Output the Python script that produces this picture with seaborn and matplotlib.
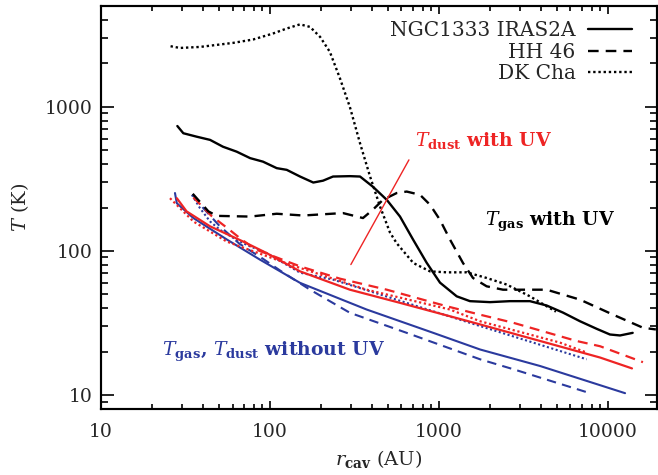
import matplotlib
matplotlib.use("Agg")
import matplotlib.pyplot as plt
from matplotlib.ticker import LogLocator, NullFormatter, FuncFormatter
import seaborn as sns
import pandas as pd

# --- gas temperature with UV (black) -------------------------------------
ngc_gas_r = [28.3, 30.7, 36.8, 44.2, 52.7, 63.5, 76.3, 90.9, 109.6, 125.6, 150.6,
             180.4, 206, 236, 297, 341, 406, 491, 588, 702, 845, 1014, 1273, 1525,
             2003, 2630, 3452, 4335, 5420, 6830, 8570, 10270, 11780, 14000]
ngc_gas_T = [735, 655, 620, 589, 528, 488, 440, 416, 375, 365, 328,
             298, 307, 328, 330, 328, 279, 226, 173, 120, 82.8, 60.2, 48.4, 44.8,
             44.1, 44.8, 44.8, 41.8, 37.3, 32.5, 28.8, 26.3, 25.9, 27.0]

hh46_gas_r = [34.9, 43.2, 48.4, 76.3, 109.6, 157, 270, 297, 355, 406, 466, 562,
              644, 772, 885, 1014, 1161, 1387, 1589, 1914, 2392, 3013, 4335,
              6830, 10720, 16100, 19200]
hh46_gas_T = [249, 188, 175, 173, 181, 176, 183, 178, 169, 193, 226, 252,
              258, 245, 209, 164, 120, 82.4, 64.9, 56.8, 53.8, 53.8, 53.8,
              45.9, 36.1, 29.3, 28.5]

dkcha_gas_r = [25.8, 29.3, 38.5, 60.4, 79.3, 104, 125.6, 150.6, 172.6, 198, 226,
               259, 297, 341, 391, 448, 513, 562, 705, 885, 1111, 1459, 1914,
               2516, 3452, 4335, 4920]
dkcha_gas_T = [2630, 2558, 2600, 2773, 2926, 3220, 3490, 3730, 3580, 3050, 2405,
               1582, 995, 558, 328, 203, 134, 113, 82.4, 72.1, 71.0, 71.0, 64.9,
               58.4, 48.4, 41.3, 37.9]

# --- dust temperature with UV (red) --------------------------------------
ngc_dust_uv_r = [28.1, 32.1, 44.2, 69.5, 95.5, 150.6, 297, 588, 1161, 1750, 8980, 13870]
ngc_dust_uv_T = [232, 188, 148, 116, 96.6, 72.1, 53.8, 43.6, 35.2, 30.9, 18.2, 15.3]

hh46_dust_uv_r = [35.2, 45.0, 56.1, 66.4, 81.5, 150.6, 259, 491, 1111, 1750, 2755,
                  6530, 8980, 16100]
hh46_dust_uv_T = [235, 175, 143.6, 122.5, 102.8, 78.1, 64.2, 53.8, 41.3, 36.1, 31.7,
                  23.7, 21.8, 16.9]

dkcha_dust_uv_r = [25.6, 35.2, 55.5, 131, 150.6, 373, 1161, 1750, 5200, 7400]
dkcha_dust_uv_T = [232, 160, 116, 80.4, 76.2, 53.8, 39.2, 32.5, 23.1, 19.8]

# --- gas and dust temperature without UV (blue) --------------------------
ngc_noUV_r = [27.4, 28.1, 35.2, 55.5, 87.3, 150.6, 373, 925, 1750, 3963, 12620]
ngc_noUV_T = [252, 214, 169, 120, 86.9, 60.0, 39.2, 27.0, 20.7, 15.9, 10.3]

hh46_noUV_r = [35.0, 40.0, 50.0, 66.0, 91.0, 119, 172.6, 297, 644, 1750, 2755, 7620]
hh46_noUV_T = [245, 200, 150, 112, 88, 71, 53.8, 37.2, 27.0, 17.7, 15.1, 10.4]

dkcha_noUV_r = [34.5, 38.5, 44.2, 50.6, 60.7, 72.8, 95.5, 150.6, 236, 1750, 7480]
dkcha_noUV_T = [245, 198, 160, 140, 123, 110, 96.6, 70.6, 63.2, 30.1, 17.7]

sources = ["NGC1333 IRAS2A", "HH 46", "DK Cha"]

R_LIM = (10, 19500)
T_LIM = (8, 5000)

RED = "#EE2424"
BLUE = "#2B3A9E"
SOLID = "-"
DASHED = (0, (4.5, 3.0))
DOTTED = (0, (1.0, 1.2))

sns.set_style("ticks")
plt.rcParams["font.family"] = ["DejaVu Serif"]
plt.rcParams["mathtext.fontset"] = "dejavuserif"

RECT = [101 / 658, 66 / 475, 556 / 658, 403 / 475]
fig = plt.figure(figsize=(6.58, 4.75), dpi=100)
ax = fig.add_axes(RECT)

curves = [
    (ngc_noUV_r, ngc_noUV_T, BLUE, SOLID, 1.5),
    (hh46_noUV_r, hh46_noUV_T, BLUE, DASHED, 1.5),
    (dkcha_noUV_r, dkcha_noUV_T, BLUE, DOTTED, 1.5),
    (ngc_dust_uv_r, ngc_dust_uv_T, RED, SOLID, 1.6),
    (hh46_dust_uv_r, hh46_dust_uv_T, RED, DASHED, 1.6),
    (dkcha_dust_uv_r, dkcha_dust_uv_T, RED, DOTTED, 1.6),
]
for r, T, col, ls, lw in curves:
    df = pd.DataFrame({"r": r, "T": T})
    sns.lineplot(data=df, x="r", y="T", ax=ax, color=col, linestyle=ls, lw=lw,
                 sort=False, estimator=None, legend=False)

gas_curves = [
    (ngc_gas_r, ngc_gas_T, SOLID),
    (hh46_gas_r, hh46_gas_T, DASHED),
    (dkcha_gas_r, dkcha_gas_T, DOTTED),
]
handles = []
for (r, T, ls), name in zip(gas_curves, sources):
    df = pd.DataFrame({"r": r, "T": T})
    sns.lineplot(data=df, x="r", y="T", ax=ax, color="black", linestyle=ls, lw=1.7,
                 sort=False, estimator=None, legend=False)
    handles.append(ax.lines[-1])

plain = FuncFormatter(lambda v, pos: f"{v:g}")


def log_axes(a):
    a.set_xscale("log")
    a.set_yscale("log")
    a.set_xlim(*R_LIM)
    a.set_ylim(*T_LIM)
    for axis in (a.xaxis, a.yaxis):
        axis.set_major_locator(LogLocator(base=10, numticks=10))
        axis.set_major_formatter(plain)
        axis.set_minor_locator(LogLocator(base=10, subs=range(2, 10), numticks=20))
        axis.set_minor_formatter(NullFormatter())


log_axes(ax)
ax.tick_params(axis="both", which="both", length=0)
ax.tick_params(axis="y", which="major", labelsize=13.5, pad=6)
ax.tick_params(axis="x", which="major", labelsize=13.5, pad=10)
for s in ax.spines.values():
    s.set_visible(True)
    s.set_linewidth(1.5)

ax.set_xlabel(r"$r_{\mathbf{cav}}$ (AU)", fontsize=14, labelpad=5)
ax.set_ylabel(r"$T$ (K)", fontsize=14, labelpad=10)

ax.legend(handles, sources, loc="upper right", bbox_to_anchor=(0.955, 0.962),
          frameon=False, markerfirst=False, fontsize=14.5, handlelength=2.2,
          handletextpad=0.6, labelspacing=0.12, borderpad=0, borderaxespad=0)

ax.text(721, 579, r"$T_{\mathbf{dust}}$ with UV", color=RED, fontsize=13.5,
        fontweight="bold", ha="left", va="center")
ax.annotate("", xy=(301, 80.4), xytext=(664, 428),
            arrowprops=dict(arrowstyle="-", color=RED, lw=1.0, shrinkA=0, shrinkB=0))
ax.text(1871, 159, r"$T_{\mathbf{gas}}$ with UV", color="black", fontsize=13.5,
        fontweight="bold", ha="left", va="center")
ax.text(23, 20.0, r"$T_{\mathbf{gas}}$, $T_{\mathbf{dust}}$ without UV", color=BLUE,
        fontsize=13.5, fontweight="bold", ha="left", va="center")

# transparent frame on top carrying the inward ticks on all four sides
frame = fig.add_axes(RECT)
frame.patch.set_visible(False)
log_axes(frame)
for s in frame.spines.values():
    s.set_visible(True)
    s.set_linewidth(1.5)
    s.set_color("black")
frame.tick_params(axis="both", which="both", direction="in", top=True, right=True,
                  bottom=True, left=True, color="black", width=1.2,
                  labelbottom=False, labelleft=False, labeltop=False, labelright=False)
frame.tick_params(axis="y", which="major", length=9)
frame.tick_params(axis="y", which="minor", length=5)
frame.tick_params(axis="x", which="major", length=6)
frame.tick_params(axis="x", which="minor", length=3.5)

fig.savefig("out.png", dpi=100)
